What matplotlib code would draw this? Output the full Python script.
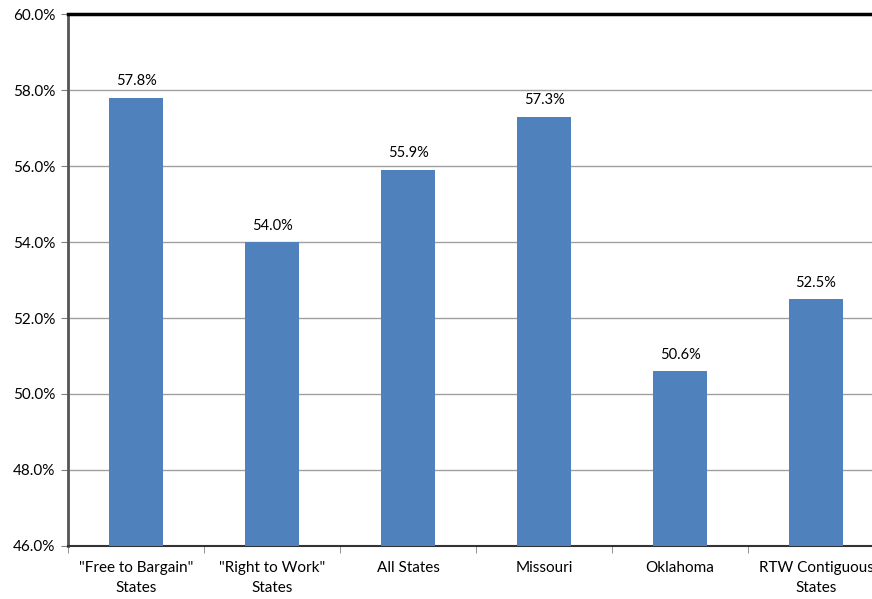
import matplotlib.pyplot as plt
import numpy as np

categories = ['"Free to Bargain"\nStates', '"Right to Work"\nStates', 'All States',
              'Missouri', 'Oklahoma', 'RTW Contiguous\nStates']
values = [57.8, 54.0, 55.9, 57.3, 50.6, 52.5]

plt.rcParams['font.family'] = ['Lato', 'DejaVu Sans']

fig = plt.figure(figsize=(8.72, 5.99), dpi=100)
ax = fig.add_axes([0.078, 0.0885, 0.9358, 0.8881])

x = np.arange(len(categories))
ax.bar(x, [v - 46 for v in values], bottom=46, width=0.4, color='#4f81bd', zorder=3)
for xi, v in zip(x, values):
    ax.text(xi, v + 0.25, f'{v:.1f}%', ha='center', va='bottom', fontsize=10.5)

ax.set_xlim(-0.5, len(categories) - 0.5)
ax.set_ylim(46, 60)
ax.set_yticks(np.arange(46, 60.1, 2))
ax.set_yticklabels([f'{t:.1f}%' for t in np.arange(46, 60.1, 2)], fontsize=11)
ax.yaxis.grid(True, color='#a0a0a0', linewidth=1, zorder=0)

ax.set_xticks(x)
ax.set_xticklabels(categories, fontsize=11, linespacing=1.55)
ax.tick_params(axis='x', which='major', length=0, pad=11)
ax.set_xticks(np.arange(-0.5, len(categories), 1), minor=True)
ax.tick_params(axis='x', which='minor', length=5, color='#808080')
ax.tick_params(axis='y', length=5, color='#808080', pad=4)

ax.spines['left'].set_color('#555555')
ax.spines['left'].set_linewidth(2)
ax.spines['bottom'].set_color('#333333')
ax.spines['bottom'].set_linewidth(1.5)
ax.spines['top'].set_color('black')
ax.spines['top'].set_linewidth(2.5)
ax.spines['right'].set_visible(False)

fig.savefig('out.png', dpi=100)
